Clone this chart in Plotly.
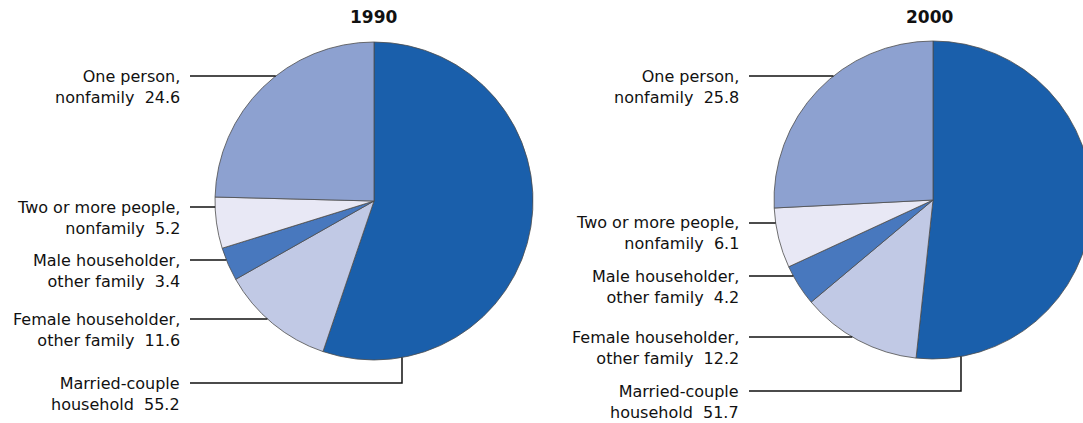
import numpy as np
import plotly.graph_objects as go

# household types, clockwise from 12 o'clock
categories = ["Married-couple household", "Female householder, other family",
              "Male householder, other family", "Two or more people, nonfamily",
              "One person, nonfamily"]
label_line1 = ["Married-couple", "Female householder,", "Male householder,",
               "Two or more people,", "One person,"]
label_line2 = ["household", "other family", "other family", "nonfamily", "nonfamily"]
years = ["1990", "2000"]
values_1990 = [55.2, 11.6, 3.4, 5.2, 24.6]
values_2000 = [51.7, 12.2, 4.2, 6.1, 25.8]

colors = ["#1a5fab", "#c1c9e5", "#4878be", "#e8e8f5", "#8da1d0"]

# layout in pixels
W, H = 1100, 423
R = 159
centers = [(374, 201), (933, 200)]
title_x = [373, 929]
leader_y = [[383, 319, 260, 207, 76], [391, 337, 276, 223, 76]]
text_gap = 192
line_gap = 184
married_drop = 28

FONT = "DejaVu Sans"
INK = "#111111"


def px(x):
    return x / W


def py(y):
    return 1 - y / H


fig = go.Figure()
shapes = []
annotations = []

for year, vals, (cx, cy), tx, ly in zip(years, [values_1990, values_2000], centers, title_x, leader_y):
    fig.add_trace(go.Pie(
        labels=categories, values=vals, sort=False, direction="clockwise",
        rotation=0, textinfo="none", hoverinfo="label+value",
        marker=dict(colors=colors, line=dict(color="#4d4d4d", width=0.8)),
        domain=dict(x=[px(cx - R), px(cx + R)], y=[py(cy + R), py(cy - R)]),
        showlegend=False,
    ))
    annotations.append(dict(
        x=px(tx), y=py(16.5), xref="paper", yref="paper", text="<b>%s</b>" % year,
        xanchor="center", yanchor="middle", showarrow=False,
        font=dict(family=FONT, size=17, color=INK),
    ))
    for i, (l1, l2, v) in enumerate(zip(label_line1, label_line2, vals)):
        y = ly[i]
        annotations.append(dict(
            x=px(cx - text_gap), y=py(y + 10.5), xref="paper", yref="paper",
            xanchor="right", yanchor="middle", align="right", showarrow=False,
            text="%s<br>%s\u00a0 %s" % (l1, l2, v),
            font=dict(family=FONT, size=16, color=INK),
        ))
        x0 = cx - line_gap
        dy = y - cy
        if abs(dy) < R:
            x1 = cx - np.sqrt(R ** 2 - dy ** 2)
            path = "M %f,%f L %f,%f" % (px(x0), py(y), px(x1), py(y))
        else:
            xb = cx + married_drop
            yb = cy + np.sqrt(R ** 2 - married_drop ** 2)
            path = "M %f,%f L %f,%f L %f,%f" % (px(x0), py(y), px(xb), py(y), px(xb), py(yb))
        shapes.append(dict(type="path", xref="paper", yref="paper", path=path,
                           line=dict(color=INK, width=1.5)))

fig.update_layout(
    width=W, height=H, margin=dict(l=0, r=0, t=0, b=0),
    paper_bgcolor="white", plot_bgcolor="white",
    shapes=shapes, annotations=annotations,
)

fig.write_html("out.html", config=dict(displayModeBar=False),
               post_script="document.body.style.margin='0';document.body.style.overflow='hidden';")
